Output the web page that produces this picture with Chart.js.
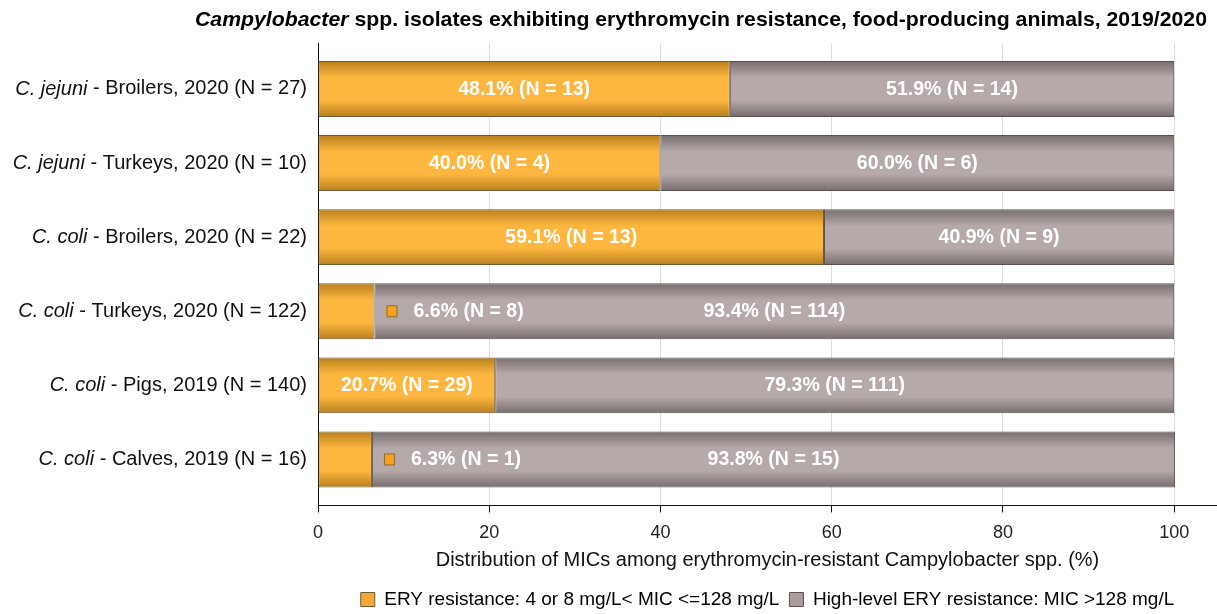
<!DOCTYPE html>
<html>
<head>
<meta charset="utf-8">
<script src="https://cdn.jsdelivr.net/npm/chart.js@4"></script>
<style>
  html, body { margin: 0; padding: 0; background: #fff; }
  #wrap { width: 1217px; height: 614px; }
</style>
</head>
<body>
<div id="wrap"><canvas id="chart" width="1217" height="614"></canvas></div>
<script>
// species (italic) + the rest of each row label
const species = ["C. jejuni", "C. jejuni", "C. coli", "C. coli", "C. coli", "C. coli"];
const groups = [" - Broilers, 2020 (N = 27)", " - Turkeys, 2020 (N = 10)", " - Broilers, 2020 (N = 22)",
                " - Turkeys, 2020 (N = 122)", " - Pigs, 2019 (N = 140)", " - Calves, 2019 (N = 16)"];

const eryPct = [48.1, 40.0, 59.1, 6.6, 20.7, 6.3];
const eryN = [13, 4, 13, 8, 29, 1];
const highPct = [51.9, 60.0, 40.9, 93.4, 79.3, 93.8];
const highN = [14, 6, 9, 114, 111, 15];

const xTicks = [0, 20, 40, 60, 80, 100];

const seriesNames = ["ERY resistance: 4 or 8 mg/L< MIC <=128 mg/L", "High-level ERY resistance: MIC >128 mg/L"];

const SANS = "'Liberation Sans', Arial, sans-serif";
const BAR_PCT = 0.755;

const orange = { mid: "#FDB740", edge: "#B97E1C", border: "#6e5a34" };
const grey = { mid: "#B5A9A9", edge: "#786D6D", border: "#5a5252" };

function barFill(c) {
  return function (ctx) {
    const chart = ctx.chart;
    const ys = chart.scales.y;
    if (!ys || !chart.chartArea) return c.mid;
    const cy = ys.getPixelForValue(ctx.dataIndex);
    const h = Math.abs(ys.getPixelForValue(1) - ys.getPixelForValue(0)) * BAR_PCT / 2;
    const g = chart.ctx.createLinearGradient(0, cy - h, 0, cy + h);
    g.addColorStop(0, c.edge);
    g.addColorStop(0.3, c.mid);
    g.addColorStop(0.7, c.mid);
    g.addColorStop(1, c.edge);
    return g;
  };
}

// condensed text: draw with a horizontal squeeze
function squeezed(ctx, text, x, y, sx, align) {
  const w = ctx.measureText(text).width * sx;
  let left = x;
  if (align === "center") left = x - w / 2;
  if (align === "right") left = x - w;
  ctx.save();
  ctx.translate(left, y);
  ctx.scale(sx, 1);
  ctx.textAlign = "left";
  ctx.fillText(text, 0, 0);
  ctx.restore();
  return w;
}

const titlePlugin = {
  id: "mixedTitle",
  afterDraw(chart) {
    const ctx = chart.ctx;
    const parts = [
      { t: "Campylobacter", f: "italic bold 21px " + SANS },
      { t: " spp. isolates exhibiting erythromycin resistance, food-producing animals, 2019/2020", f: "bold 21px " + SANS }
    ];
    ctx.save();
    ctx.fillStyle = "#000";
    ctx.textBaseline = "middle";
    let total = 0;
    for (const p of parts) { ctx.font = p.f; total += ctx.measureText(p.t).width; }
    const sx = 1012 / total;
    let x = 1207 - total * sx;
    for (const p of parts) {
      ctx.font = p.f;
      x += squeezed(ctx, p.t, x, 20, sx, "left");
    }
    ctx.restore();
  }
};

const rowLabels = {
  id: "rowLabels",
  afterDraw(chart) {
    const ctx = chart.ctx;
    const ys = chart.scales.y;
    ctx.save();
    ctx.fillStyle = "#111";
    ctx.textBaseline = "middle";
    species.forEach((sp, i) => {
      const y = ys.getPixelForValue(i);
      ctx.font = "20px " + SANS;
      const w2 = ctx.measureText(groups[i]).width;
      ctx.font = "italic 20px " + SANS;
      const w1 = ctx.measureText(sp).width;
      const x = 307 - w1 - w2;
      ctx.fillText(sp, x, y);
      ctx.font = "20px " + SANS;
      ctx.fillText(groups[i], x + w1, y);
    });
    ctx.restore();
  }
};

const barLabels = {
  id: "barLabels",
  afterDatasetsDraw(chart) {
    const ctx = chart.ctx;
    const m0 = chart.getDatasetMeta(0).data;
    const m1 = chart.getDatasetMeta(1).data;
    ctx.save();
    ctx.font = "bold 21px " + SANS;
    ctx.textBaseline = "middle";
    m0.forEach((el, i) => {
      const t0 = eryPct[i].toFixed(1) + "% (N = " + eryN[i] + ")";
      const t1 = highPct[i].toFixed(1) + "% (N = " + highN[i] + ")";
      const g = m1[i];
      ctx.fillStyle = "#fff";
      if (eryPct[i] >= 10) {
        squeezed(ctx, t0, (el.base + el.x) / 2, el.y, 0.93, "center");
      } else {
        const sx = g.base + 12;
        ctx.fillStyle = "#F7A21B";
        ctx.fillRect(sx, el.y - 6, 11, 12);
        ctx.strokeStyle = "#8a6a3a";
        ctx.lineWidth = 1;
        ctx.strokeRect(sx + 0.5, el.y - 5.5, 10, 11);
        ctx.fillStyle = "#fff";
        squeezed(ctx, t0, sx + 27, el.y, 0.93, "left");
      }
      squeezed(ctx, t1, (g.base + g.x) / 2, g.y, 0.93, "center");
    });
    ctx.restore();
  }
};

const ctx = document.getElementById("chart").getContext("2d");
new Chart(ctx, {
  type: "bar",
  data: {
    datasets: [
      {
        label: seriesNames[0],
        data: eryPct.map((v, i) => ({ x: v, y: i })),
        backgroundColor: barFill(orange),
        borderColor: orange.border,
        borderWidth: 1,
        borderSkipped: false
      },
      {
        label: seriesNames[1],
        data: highPct.map((v, i) => ({ x: v, y: i })),
        backgroundColor: barFill(grey),
        borderColor: grey.border,
        borderWidth: 1,
        borderSkipped: false
      }
    ]
  },
  options: {
    indexAxis: "y",
    responsive: false,
    animation: false,
    barPercentage: BAR_PCT,
    categoryPercentage: 1,
    layout: { padding: { left: 318, top: 43, right: 0, bottom: -5 } },
    scales: {
      x: {
        stacked: true,
        min: 0,
        max: 105,
        afterBuildTicks: s => { s.ticks = xTicks.map(v => ({ value: v })); },
        ticks: { color: "#222", padding: 10, font: { family: SANS, size: 18 } },
        grid: { color: "#dddddd", tickColor: "#111", tickLength: 7, lineWidth: 1 },
        border: { display: true, color: "#111", width: 1 },
        title: {
          display: true,
          text: "Distribution of MICs among erythromycin-resistant Campylobacter spp. (%)",
          color: "#111",
          font: { family: SANS, size: 20 },
          padding: { top: -6, bottom: 8 }
        }
      },
      y: {
        type: "linear",
        stacked: true,
        reverse: true,
        offset: false,
        bounds: "data",
        min: -0.62,
        max: 5.62,
        afterBuildTicks: s => { s.ticks = species.map((_, i) => ({ value: i })); },
        ticks: { display: false },
        grid: { display: false },
        border: { display: true, color: "#111", width: 1 },
        afterFit: s => { s.width = 0; }
      }
    },
    plugins: {
      legend: {
        position: "bottom",
        labels: {
          boxWidth: 14,
          boxHeight: 14,
          padding: 10,
          color: "#111",
          font: { family: SANS, size: 19 },
          generateLabels: () => [
            { text: seriesNames[0], fillStyle: "#F2A93A", strokeStyle: orange.border, lineWidth: 1, datasetIndex: 0 },
            { text: seriesNames[1], fillStyle: "#A99C9C", strokeStyle: grey.border, lineWidth: 1, datasetIndex: 1 }
          ]
        }
      },
      tooltip: { enabled: false }
    }
  },
  plugins: [titlePlugin, rowLabels, barLabels]
});
</script>
</body>
</html>
